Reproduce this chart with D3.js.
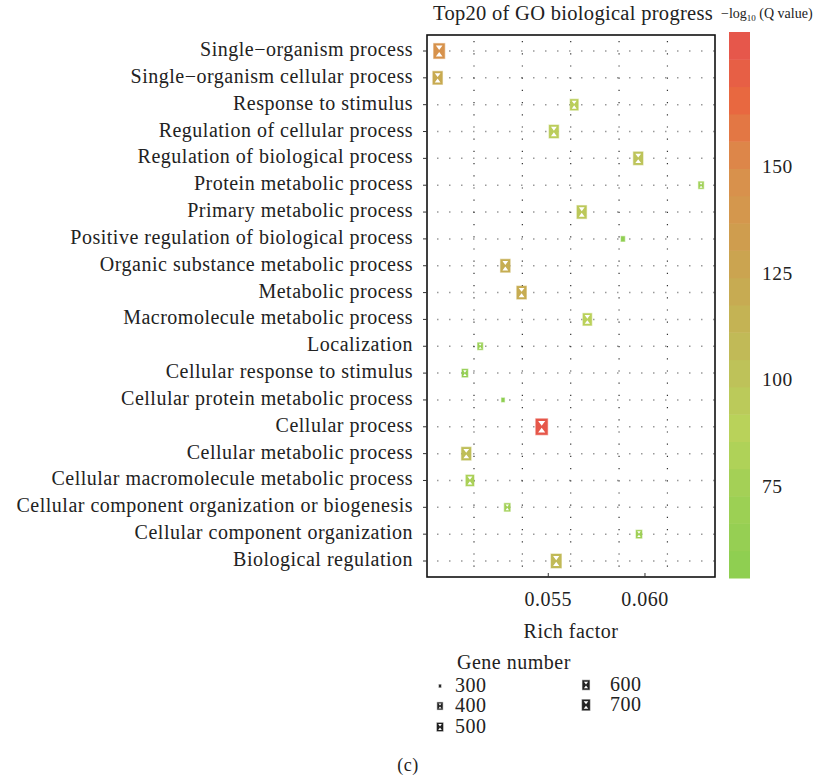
<!DOCTYPE html>
<html>
<head>
<meta charset="utf-8">
<script src="https://cdn.jsdelivr.net/npm/d3@7"></script>
<style>
  body { margin: 0; background: #fff; }
  text { font-family: "Liberation Serif", "DejaVu Serif", serif; fill: #222; letter-spacing: 0.5px; }
</style>
</head>
<body>
<div id="root"></div>
<script>
// GO terms, top to bottom
const terms = [
  "Single\u2212organism process",
  "Single\u2212organism cellular process",
  "Response to stimulus",
  "Regulation of cellular process",
  "Regulation of biological process",
  "Protein metabolic process",
  "Primary metabolic process",
  "Positive regulation of biological process",
  "Organic substance metabolic process",
  "Metabolic process",
  "Macromolecule metabolic process",
  "Localization",
  "Cellular response to stimulus",
  "Cellular protein metabolic process",
  "Cellular process",
  "Cellular metabolic process",
  "Cellular macromolecule metabolic process",
  "Cellular component organization or biogenesis",
  "Cellular component organization",
  "Biological regulation"
];
const richFactor = [0.04936, 0.04928, 0.05634, 0.05529, 0.05965, 0.06290, 0.05673, 0.05886, 0.05278, 0.05362,
                    0.05702, 0.05148, 0.05069, 0.05266, 0.05466, 0.05076, 0.05095, 0.05288, 0.05969, 0.05541];
const geneNumber = [1086, 914, 743, 914, 914, 400, 914, 356, 914, 914,
                    829, 400, 486, 333, 1171, 914, 743, 486, 486, 1000];
const qValue = [145, 122, 92, 93, 100, 72, 97, 58, 118, 120,
                90, 65, 62, 56, 178, 105, 80, 75, 72, 108];

const xTicks = [0.055, 0.060];
const xGrid = [0.05116, 0.05366, 0.05616, 0.05866, 0.06116];
const colorTicks = [75, 100, 125, 150];
const legendGenes = [300, 400, 500, 600, 700];

const w = 816, h = 780;
const fs = 20;
const svg = d3.select("#root").append("svg").attr("width", w).attr("height", h);

const x = d3.scaleLinear().domain([0.04873, 0.06362]).range([427, 715]);
const y = d3.scalePoint().domain(terms).range([51, 561]);
const panel = {top: 35, bottom: 577, left: 427, right: 715};

const color = d3.scaleLinear()
  .domain([54, 75, 88, 100, 125, 150, 165, 182])
  .range(["#8ccf50", "#a2d056", "#b9d35a", "#bdc45a", "#c9a650", "#db8d4b", "#e8693f", "#e6524e"]);
// glyph height from gene number
const size = d3.scaleLinear().domain([300, 400, 700]).range([2.5, 7, 10.5]);

// grid
svg.append("g").selectAll("line").data(terms).join("line")
  .attr("x1", panel.left + 10).attr("x2", panel.right)
  .attr("y1", d => y(d)).attr("y2", d => y(d))
  .attr("stroke", "#999").attr("stroke-width", 1.5).attr("stroke-dasharray", "1.5,10.5");
svg.append("g").selectAll("line").data(xGrid).join("line")
  .attr("x1", d => x(d)).attr("x2", d => x(d))
  .attr("y1", panel.top + 6).attr("y2", panel.bottom)
  .attr("stroke", "#333").attr("stroke-width", 1.2).attr("stroke-dasharray", "1.2,11");

// glyph: filled box with white hourglass
function glyph(g, cx, cy, hh, fill) {
  const ww = hh * 0.74;
  g.append("rect").attr("x", cx - ww / 2).attr("y", cy - hh / 2)
    .attr("width", ww).attr("height", hh).attr("fill", fill)
    .attr("stroke", fill).attr("stroke-opacity", 0.45).attr("stroke-width", 1.2);
  if (hh >= 6) {
    const a = ww * 0.3, t = hh * 0.36, m = hh * 0.06;
    g.append("path")
      .attr("d", `M${cx - a},${cy - t}L${cx + a},${cy - t}L${cx},${cy - m}Z` +
                 `M${cx - a},${cy + t}L${cx + a},${cy + t}L${cx},${cy + m}Z`)
      .attr("fill", "#fff");
  }
}

const pts = svg.append("g");
terms.forEach((t, i) => glyph(pts, x(richFactor[i]), y(t), size(geneNumber[i]), color(qValue[i])));

// panel border
svg.append("rect").attr("x", panel.left).attr("y", panel.top)
  .attr("width", panel.right - panel.left).attr("height", panel.bottom - panel.top)
  .attr("fill", "none").attr("stroke", "#111").attr("stroke-width", 1.6);

// y axis
svg.append("g").selectAll("line").data(terms).join("line")
  .attr("x1", panel.left - 4).attr("x2", panel.left)
  .attr("y1", d => y(d)).attr("y2", d => y(d)).attr("stroke", "#333");
svg.append("g").selectAll("text").data(terms).join("text")
  .attr("x", 413).attr("y", d => y(d) + 5)
  .attr("text-anchor", "end").attr("font-size", fs).text(d => d);

// x axis
svg.append("g").selectAll("line").data(xTicks).join("line")
  .attr("x1", d => x(d)).attr("x2", d => x(d))
  .attr("y1", panel.bottom - 4).attr("y2", panel.bottom).attr("stroke", "#333");
svg.append("g").selectAll("text").data(xTicks).join("text")
  .attr("x", d => x(d)).attr("y", 606).attr("text-anchor", "middle")
  .attr("font-size", fs).text(d3.format(".3f"));
svg.append("text").attr("x", (panel.left + panel.right) / 2).attr("y", 638)
  .attr("text-anchor", "middle").attr("font-size", 20).text("Rich factor");

// title
svg.append("text").attr("x", 433).attr("y", 20).attr("font-size", 20.5)
  .style("letter-spacing", "0.3px")
  .text("Top20 of GO biological progress");

// colour bar
const cb = {x: 729, w: 21, top: 32, bottom: 578};
const cbY = d3.scaleLinear().domain([75, 150]).range([487, 167]);
const nBands = 20;
const vTop = cbY.invert(cb.top), vBot = cbY.invert(cb.bottom);
const bands = d3.range(nBands).map(i => vBot + (vTop - vBot) * (i + 0.5) / nBands);
const bandH = (cb.bottom - cb.top) / nBands;
svg.append("g").selectAll("rect").data(bands).join("rect")
  .attr("x", cb.x).attr("width", cb.w)
  .attr("y", (d, i) => cb.bottom - (i + 1) * bandH).attr("height", bandH + 0.5)
  .attr("fill", d => color(d));
svg.append("g").selectAll("text").data(colorTicks).join("text")
  .attr("x", 762).attr("y", d => cbY(d) + 6).attr("font-size", 19.5).text(d => d);
const ct = svg.append("text").attr("x", 721).attr("y", 18).attr("font-size", 14)
  .style("letter-spacing", "0px");
ct.append("tspan").text("\u2212log");
ct.append("tspan").attr("font-size", 9).attr("dy", 3).text("10");
ct.append("tspan").attr("dy", -3).text(" (Q value)");

// size legend
svg.append("text").attr("x", 457).attr("y", 669).attr("font-size", fs).text("Gene number");
const legPos = [[440, 455, 692], [440, 455, 712], [440, 455, 733], [586, 610, 691], [586, 610, 711]];
const leg = svg.append("g");
legendGenes.forEach((n, i) => {
  const [mx, tx, ty] = legPos[i];
  glyph(leg, mx, ty - 6, size(n), "#222");
  leg.append("text").attr("x", tx).attr("y", ty).attr("font-size", fs).text(n);
});

svg.append("text").attr("x", 408).attr("y", 771).attr("text-anchor", "middle")
  .attr("font-size", 18).text("(c)");
</script>
</body>
</html>
